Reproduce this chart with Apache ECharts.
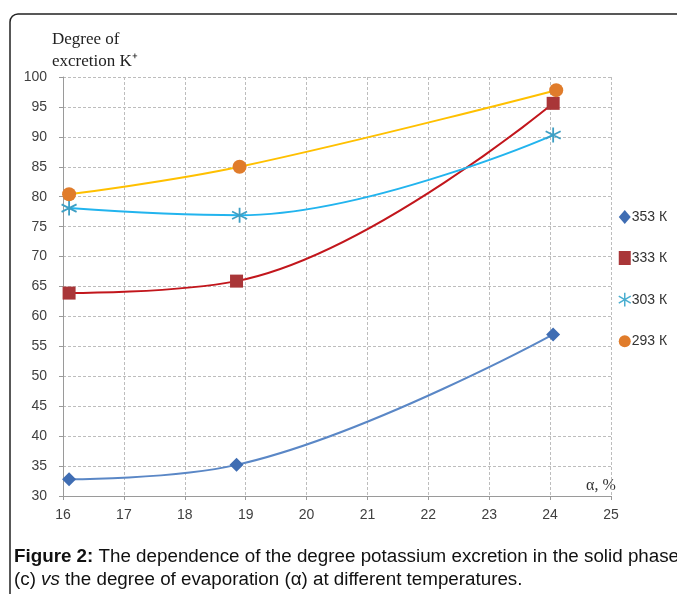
<!DOCTYPE html>
<html>
<head>
<meta charset="utf-8">
<script src="https://cdn.jsdelivr.net/npm/echarts@6/dist/echarts.min.js"></script>
<style>html,body{margin:0;padding:0;background:#fff;}#c{width:677px;height:594px;}</style>
</head>
<body>
<div id="c"></div>
<script>
const xTicks = [16, 17, 18, 19, 20, 21, 22, 23, 24, 25];
const seriesNames = ['353 К', '333 К', '303 К', '293 К'];
const s353 = [[16.1, 32.8], [18.85, 35.2], [24.05, 57.0]];
const s333 = [[16.1, 63.9], [18.85, 65.9], [24.05, 95.6]];
const s303 = [[16.1, 78.1], [18.9, 76.9], [24.05, 90.3]];
const s293 = [[16.1, 80.4], [18.9, 85.0], [24.1, 97.8]];
const yLabelLines = ['Degree of', 'excretion K⁺'];
const xName = 'α, %';

const asterisk = 'path://M0,-10L0,10M-8.66,-5L8.66,5M-8.66,5L8.66,-5';

const chart = echarts.init(document.getElementById('c'));
function mk(name, data, lineColor, markColor, symbol, size, extra) {
  return Object.assign({
    name: name, type: 'line', data: data, smooth: 0.4,
    symbol: symbol, symbolSize: size, showSymbol: true,
    lineStyle: { color: lineColor, width: 2 },
    itemStyle: { color: markColor },
    z: 3
  }, extra || {});
}
chart.setOption({
  animation: false,
  grid: { left: 63, right: 66, top: 77, bottom: 98 },
  xAxis: {
    type: 'value', min: 16, max: 25, interval: 1,
    axisLine: { show: true, lineStyle: { color: '#9a9a9a', width: 1 } },
    axisTick: { show: true, length: 4, lineStyle: { color: '#9a9a9a' } },
    axisLabel: { color: '#404040', fontSize: 14, fontFamily: 'Liberation Sans', margin: 12 },
    splitLine: { show: true, lineStyle: { color: '#bdbdbd', type: [3, 2], width: 1 } }
  },
  yAxis: {
    type: 'value', min: 30, max: 100, interval: 5,
    axisLine: { show: true, lineStyle: { color: '#9a9a9a', width: 1 } },
    axisTick: { show: true, length: 4, lineStyle: { color: '#9a9a9a' } },
    axisLabel: { color: '#404040', fontSize: 14, fontFamily: 'Liberation Sans', margin: 16 },
    splitLine: { show: true, lineStyle: { color: '#bdbdbd', type: [3, 2], width: 1 } }
  },
  legend: {
    orient: 'vertical', left: 613, top: 205, itemGap: 27,
    itemWidth: 12, itemHeight: 14,
    textStyle: { fontSize: 14, color: '#333', fontFamily: 'Liberation Sans', padding: [0, 0, 0, -4] },
    data: [
      { name: seriesNames[0], icon: 'diamond' },
      { name: seriesNames[1], icon: 'rect' },
      { name: seriesNames[2], icon: asterisk, itemStyle: { color: 'rgba(0,0,0,0)', borderColor: '#4aaed0', borderWidth: 1.5 } },
      { name: seriesNames[3], icon: 'circle' }
    ]
  },
  series: [
    mk(seriesNames[0], s353, '#5a87c6', '#3f6db3', 'diamond', 14),
    mk(seriesNames[1], s333, '#c2161c', '#a93638', 'rect', 13),
    mk(seriesNames[2], s303, '#22b4ee', '#3e9fc4', asterisk, 15, {
      itemStyle: { color: 'rgba(0,0,0,0)', borderColor: '#3e9fc4', borderWidth: 1.8 }
    }),
    mk(seriesNames[3], s293, '#ffc000', '#e07c2b', 'circle', 14)
  ],
  graphic: [
    { type: 'rect', shape: { x: 10, y: 14, width: 720, height: 640, r: 8 }, style: { fill: 'none', stroke: '#222', lineWidth: 1.5 }, silent: true },
    { type: 'text', left: 52, top: 29, style: { text: yLabelLines.join('\n'), font: '17px "Liberation Serif"', fill: '#222', lineHeight: 22 } },
    { type: 'text', left: 586, top: 478, style: { text: xName, font: '16px "Liberation Serif"', fill: '#333' } },
    { type: 'text', left: 14, top: 545, style: {
      text: '{b|Figure 2:} The dependence of the degree potassium excretion in the solid phase\n(c) {i|vs} the degree of evaporation (α) at different temperatures.',
      font: '18.8px "Liberation Sans"', fill: '#111', lineHeight: 23,
      rich: {
        b: { fontWeight: 'bold', fontSize: 18.8, fontFamily: 'Liberation Sans', fill: '#111' },
        i: { fontStyle: 'italic', fontSize: 18.8, fontFamily: 'Liberation Sans', fill: '#111' }
      }
    } }
  ]
});
</script>
</body>
</html>
